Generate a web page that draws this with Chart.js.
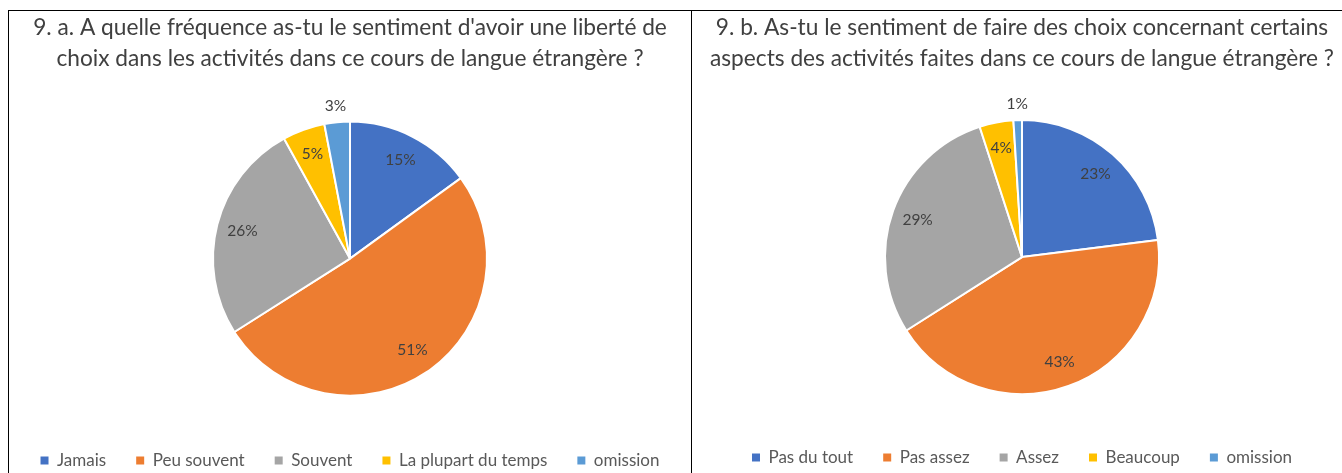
<!DOCTYPE html>
<html>
<head>
<meta charset="utf-8">
<script src="https://cdn.jsdelivr.net/npm/chart.js@4.4.1/dist/chart.umd.min.js"></script>
<style>
  body { margin: 0; background: #fff; width: 1342px; height: 473px; overflow: hidden; position: relative; }
  .panel { position: absolute; top: 10px; height: 500px; border: 1px solid #000; box-sizing: border-box; }
  canvas { position: absolute; top: 1px; left: 0; }
</style>
</head>
<body>
<div class="panel" style="left:8px; width:684px;"><canvas id="chartA" width="682" height="467"></canvas></div>
<div class="panel" style="left:691px; width:700px;"><canvas id="chartB" width="660" height="464"></canvas></div>
<script>
// Données
const titleA = ["9. a. A quelle fréquence as-tu le sentiment d'avoir une liberté de", "choix dans les activités dans ce cours de langue étrangère ?"];
const labelsA = ["Jamais", "Peu souvent", "Souvent", "La plupart du temps", "omission"];
const valuesA = [15, 51, 26, 5, 3];

const titleB = ["9. b. As-tu le sentiment de faire des choix concernant certains", "aspects des activités faites dans ce cours de langue étrangère ?"];
const labelsB = ["Pas du tout", "Pas assez", "Assez", "Beaucoup", "omission"];
const valuesB = [23, 43, 29, 4, 1];

// Couleurs Office
const colors = ["#4472C4", "#ED7D31", "#A5A5A5", "#FFC000", "#5B9BD5"];
const fontName = "Lato, 'Open Sans', sans-serif";

// Plugin pour écrire les pourcentages sur les parts
const pctLabels = {
  id: "pctLabels",
  afterDatasetsDraw(chart) {
    const ctx = chart.ctx;
    const meta = chart.getDatasetMeta(0);
    const values = chart.data.datasets[0].data;
    ctx.save();
    ctx.font = "15.5px " + fontName;
    ctx.fillStyle = "#404040";
    ctx.textAlign = "center";
    ctx.textBaseline = "middle";
    meta.data.forEach((arc, i) => {
      const p = arc.getProps(["x", "y", "startAngle", "endAngle", "outerRadius"], true);
      const mid = (p.startAngle + p.endAngle) / 2;
      const r = values[i] < 3.5 ? p.outerRadius * 1.12 : p.outerRadius * 0.81;
      ctx.fillText(values[i] + "%", p.x + Math.cos(mid) * r, p.y + Math.sin(mid) * r);
    });
    ctx.restore();
  }
};

function makePie(id, title, labels, values, legendPad) {
  return new Chart(document.getElementById(id), {
    type: "pie",
    plugins: [pctLabels],
    data: {
      labels: labels,
      datasets: [{
        data: values,
        backgroundColor: colors,
        borderColor: "#ffffff",
        borderWidth: 2
      }]
    },
    options: {
      responsive: false,
      animation: false,
      radius: 137,
      layout: { padding: 0 },
      plugins: {
        tooltip: { enabled: false },
        title: {
          display: true,
          text: title,
          color: "#404040",
          font: { family: fontName, size: 22.7, weight: "normal", lineHeight: 1.37 },
          padding: { top: 0, bottom: 21 }
        },
        legend: {
          position: "bottom",
          labels: {
            color: "#595959",
            font: { family: fontName, size: 17 },
            boxWidth: 8,
            boxHeight: 8,
            padding: legendPad,
            generateLabels(chart) {
              return Chart.overrides.pie.plugins.legend.labels.generateLabels(chart).map(l => {
                l.lineWidth = 0;
                l.strokeStyle = l.fillStyle;
                return l;
              });
            }
          }
        }
      }
    }
  });
}

makePie("chartA", titleA, labelsA, valuesA, 30);
makePie("chartB", titleB, labelsB, valuesB, 30);
</script>
</body>
</html>
